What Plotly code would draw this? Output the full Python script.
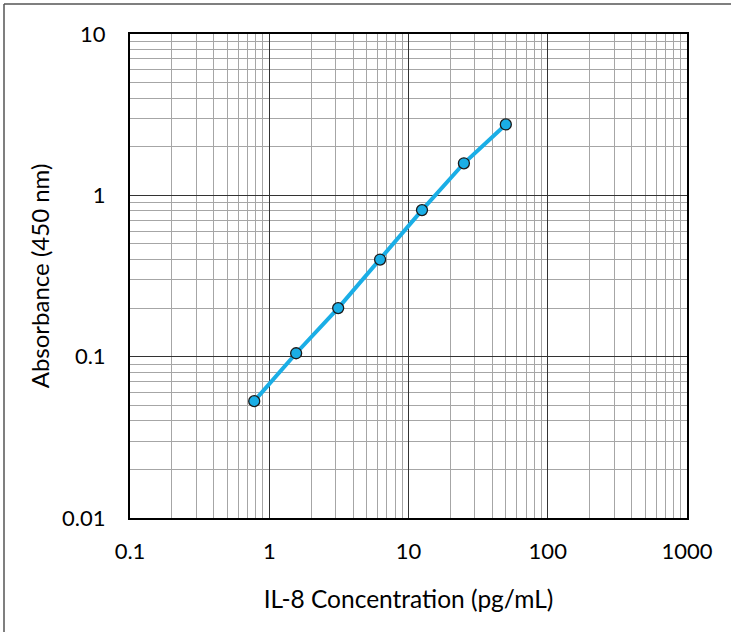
import plotly.graph_objects as go

concentration = [0.78, 1.56, 3.125, 6.25, 12.5, 25, 50]
absorbance = [0.053, 0.105, 0.20, 0.40, 0.81, 1.58, 2.75]

x_tickvals = [0.1, 1, 10, 100, 1000]
x_ticktext = ["0.1", "1", "10", "100", "1000"]
y_tickvals = [0.01, 0.1, 1, 10]
y_ticktext = ["0.01", "0.1", "1", "10"]

FONT = "Lato, 'Open Sans', sans-serif"
line_col = "#1AAEE6"

fig = go.Figure()
fig.add_trace(go.Scatter(
    x=concentration, y=absorbance, mode="lines+markers",
    line=dict(color=line_col, width=4),
    marker=dict(size=11, color=line_col, line=dict(color="#1a1a1a", width=1.3)),
    showlegend=False,
))

axis_common = dict(
    type="log", showline=True, linecolor="#000000", linewidth=2, mirror=True,
    showgrid=True, gridcolor="#333333", gridwidth=1.4, ticks="",
    zeroline=False, tickfont=dict(family=FONT, size=22, color="#000000"),
    minor=dict(showgrid=True, gridcolor="#a6a6a6", gridwidth=1, dtick="D1", ticks=""),
)

fig.update_layout(
    width=731, height=632,
    margin=dict(l=130, r=44, t=34, b=114),
    paper_bgcolor="white", plot_bgcolor="white",
    font=dict(family=FONT, color="#000000"),
    xaxis=dict(axis_common, range=[-1, 3], tickvals=x_tickvals, ticktext=x_ticktext,
               ticklabelstandoff=13,
               title=dict(text="IL-8 Concentration (pg/mL)", font=dict(family=FONT, size=24.5), standoff=27)),
    yaxis=dict(axis_common, range=[-2, 1], tickvals=y_tickvals, ticktext=y_ticktext,
               ticklabelstandoff=18,
               title=dict(text="Absorbance (450 nm)", font=dict(family=FONT, size=24), standoff=6)),
)

# outer chart border (top and left visible)
W, H = 731, 632
pw, ph = W - 130 - 44, H - 34 - 114
def px2x(p):
    return (p - 130) / pw
def px2y(p):
    return 1 - (p - 34) / ph
fig.add_shape(type="line", xref="paper", yref="paper",
              x0=px2x(4), x1=px2x(740), y0=px2y(4), y1=px2y(4),
              line=dict(color="#555555", width=1.5))
fig.add_shape(type="line", xref="paper", yref="paper",
              x0=px2x(4), x1=px2x(4), y0=px2y(4), y1=px2y(640),
              line=dict(color="#555555", width=1.5))

fig.write_html("out.html", config={"displayModeBar": False},
               post_script="document.body.style.margin='0';document.body.style.overflow='hidden';")
